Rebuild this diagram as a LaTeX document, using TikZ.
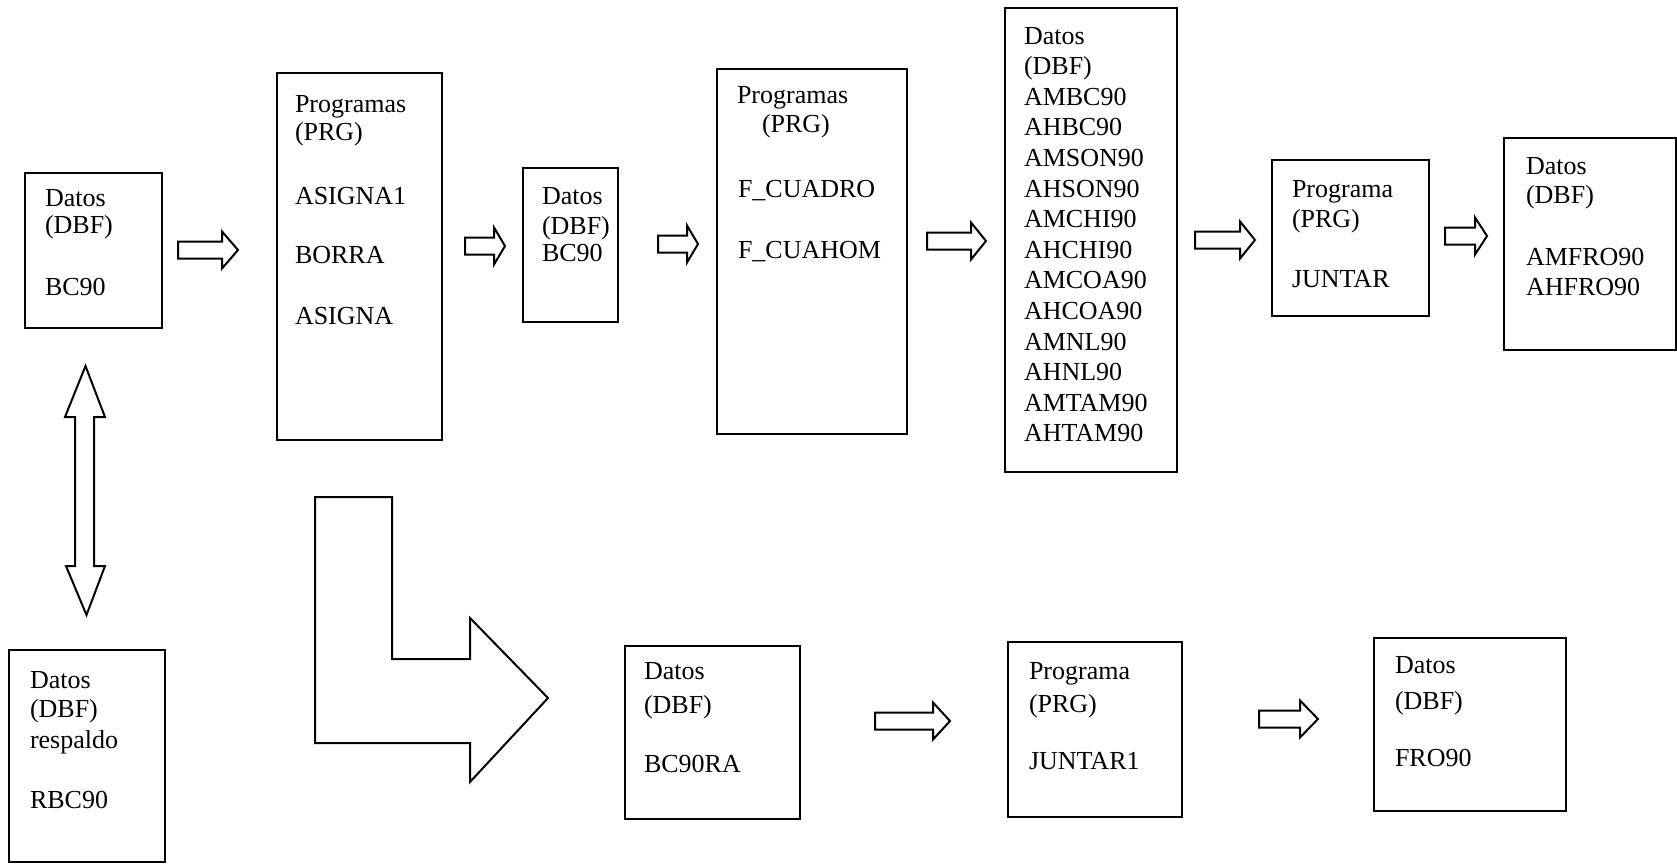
\documentclass[tikz,border=0pt]{standalone}
\usepackage{fontspec}
\setmainfont{Liberation Serif}
\tikzset{
  box/.style={draw, line width=2pt, inner sep=0pt, outer sep=0pt, anchor=north west},
  txt/.style={inner sep=0pt, outer sep=0pt, anchor=base west, font=\fontsize{26}{30}\selectfont},
  blk/.style={draw, line width=2pt, line join=miter, fill=white},
}
% name, x, cap-centre y, text
\newcommand\tline[4]{\node[txt] (#1) at (#2,#3+8.6) {#4};}
% block arrow pointing right: x start, head base x, tip x, centre y
\newcommand\rblock[4]{\draw[blk] (#1,#4-8.5) -- (#2,#4-8.5) -- (#2,#4-18.5) -- (#3,#4) -- (#2,#4+18.5) -- (#2,#4+8.5) -- (#1,#4+8.5) -- cycle;}
\begin{document}
\begin{tikzpicture}[x=1pt,y=-1pt]
\useasboundingbox (0,0) rectangle (1677,864);

% ---------- boxes ----------
\node[box, minimum width=137, minimum height=155] (b1) at (25,173) {};
\node[box, minimum width=165, minimum height=367] (b2) at (277,73) {};
\node[box, minimum width=95,  minimum height=154] (b3) at (523,168) {};
\node[box, minimum width=190, minimum height=365] (b4) at (717,69) {};
\node[box, minimum width=172, minimum height=464] (b5) at (1005,8) {};
\node[box, minimum width=157, minimum height=156] (b6) at (1272,160) {};
\node[box, minimum width=172, minimum height=212] (b7) at (1504,138) {};
\node[box, minimum width=156, minimum height=212] (b8) at (9,650) {};
\node[box, minimum width=175, minimum height=173] (b9) at (625,646) {};
\node[box, minimum width=174, minimum height=175] (b10) at (1008,642) {};
\node[box, minimum width=192, minimum height=173] (b11) at (1374,638) {};

% ---------- texts ----------
\tline{t1a}{45}{198}{Datos}
\tline{t1b}{45}{225}{(DBF)}
\tline{t1c}{45}{287}{BC90}

\tline{t2a}{295}{104}{Programas}
\tline{t2b}{295}{132}{(PRG)}
\tline{t2c}{295}{196}{ASIGNA1}
\tline{t2d}{295}{255}{BORRA}
\tline{t2e}{295}{316}{ASIGNA}

\tline{t3a}{542}{196}{Datos}
\tline{t3b}{542}{226}{(DBF)}
\tline{t3c}{542}{253}{BC90}

\tline{t4a}{737}{95}{Programas}
\tline{t4b}{762}{124}{(PRG)}
\tline{t4c}{738}{189}{F\_CUADRO}
\tline{t4d}{738}{250}{F\_CUAHOM}

\foreach \w [count=\i from 0] in {Datos,(DBF),AMBC90,AHBC90,AMSON90,AHSON90,AMCHI90,AHCHI90,AMCOA90,AHCOA90,AMNL90,AHNL90,AMTAM90,AHTAM90}
  \node[txt] (t5-\i) at (1024,{35.5+30.6*\i+8.6}) {\w};

\tline{t6a}{1292}{189}{Programa}
\tline{t6b}{1292}{219}{(PRG)}
\tline{t6c}{1292}{279}{JUNTAR}

\tline{t7a}{1526}{166}{Datos}
\tline{t7b}{1526}{195}{(DBF)}
\tline{t7c}{1526}{257}{AMFRO90}
\tline{t7d}{1526}{287}{AHFRO90}

\tline{t8a}{30}{680}{Datos}
\tline{t8b}{30}{709}{(DBF)}
\tline{t8c}{30}{740}{respaldo}
\tline{t8d}{30}{800}{RBC90}

\tline{t9a}{644}{671}{Datos}
\tline{t9b}{644}{705}{(DBF)}
\tline{t9c}{644}{764}{BC90RA}

\tline{t10a}{1029}{671}{Programa}
\tline{t10b}{1029}{704}{(PRG)}
\tline{t10c}{1029}{761}{JUNTAR1}

\tline{t11a}{1395}{665}{Datos}
\tline{t11b}{1395}{701}{(DBF)}
\tline{t11c}{1395}{758}{FRO90}

% ---------- block arrows ----------
\rblock{178}{222}{238}{250}
\rblock{465}{494}{505}{246}
\rblock{658}{687}{698}{244}
\rblock{927}{971}{986}{241}
\rblock{1195}{1240}{1255}{240}
\rblock{1445}{1475}{1487}{236}
\rblock{875}{933}{950}{721}
\rblock{1259}{1300}{1318}{719}

% double vertical arrow
\draw[blk] (85.5,366) -- (105,417) -- (94,417) -- (94,566) -- (105,566) -- (86.5,615)
  -- (66,566) -- (75,566) -- (75,417) -- (65,417) -- cycle;

% L-shaped arrow
\draw[blk] (315,497) -- (392,497) -- (392,659) -- (470,659) -- (470,618) -- (548,698)
  -- (470,782) -- (470,743) -- (315,743) -- cycle;
\end{tikzpicture}
\end{document}
